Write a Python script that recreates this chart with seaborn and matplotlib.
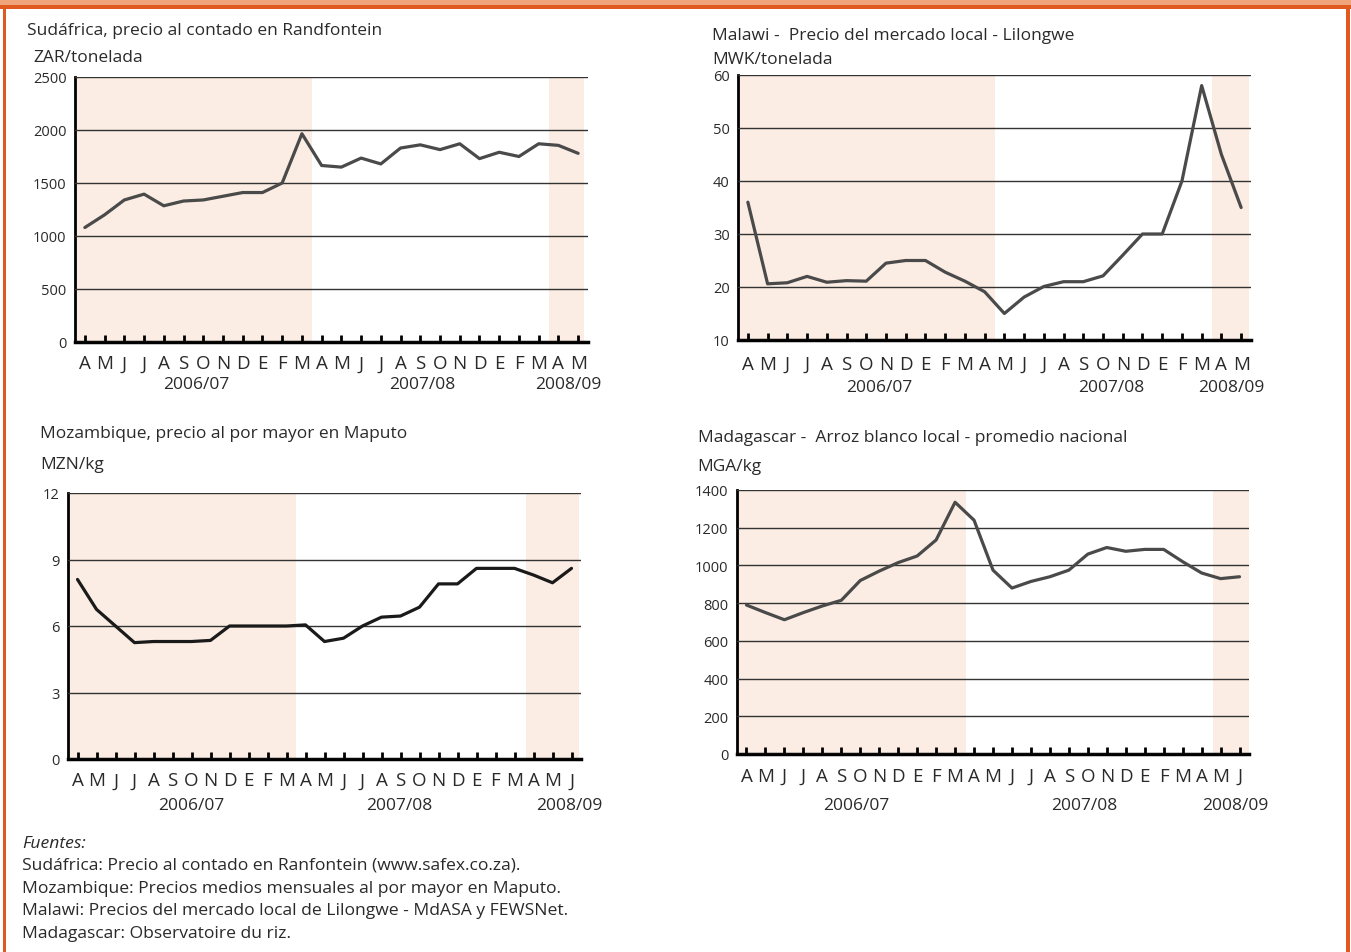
import matplotlib
matplotlib.use("Agg")
import matplotlib.pyplot as plt
import seaborn as sns

sns.set_theme(style="white")
plt.rcParams["font.family"] = ["Open Sans", "DejaVu Sans"]

# data
months26 = ["A", "M", "J", "J", "A", "S", "O", "N", "D", "E", "F", "M",
            "A", "M", "J", "J", "A", "S", "O", "N", "D", "E", "F", "M",
            "A", "M"]
months27 = months26 + ["J"]
seasons = ["2006/07", "2007/08", "2008/09"]

sudafrica = [1080, 1200, 1340, 1395, 1285, 1330, 1340, 1375, 1410, 1410, 1500, 1965,
             1665, 1650, 1735, 1680, 1830, 1860, 1815, 1870, 1730, 1790, 1750, 1870,
             1855, 1780]
malawi = [36, 20.6, 20.8, 22, 20.9, 21.2, 21.1, 24.5, 25, 25, 22.8, 21.1,
          19.1, 15, 18.1, 20.1, 21, 21, 22.1, 26, 30, 30, 40, 58,
          45, 35]
mozambique = [8.1, 6.75, 6.0, 5.25, 5.3, 5.3, 5.3, 5.35, 6.0, 6.0, 6.0, 6.0,
              6.05, 5.3, 5.45, 6.0, 6.4, 6.45, 6.85, 7.9, 7.9, 8.6, 8.6, 8.6,
              8.3, 7.95, 8.6]
madagascar = [790, 750, 712, 750, 785, 815, 920, 970, 1015, 1050, 1135, 1335,
              1240, 975, 880, 915, 940, 975, 1060, 1095, 1075, 1085, 1085, 1020,
              960, 930, 940]

W, H = 1351, 953
fig = plt.figure(figsize=(W / 100, H / 100), dpi=100)

SHADE = "#fbede3"
TXT = "#2a2a2a"


def px(x, y):
    return x / W, 1 - y / H


def panel(box, values, months, ylim, yticks, shades, season_x, line_color,
          title, title_xy, unit, unit_xy, month_dy, season_dy):
    x0, y0, x1, y1 = box
    ax = fig.add_axes([x0 / W, 1 - y1 / H, (x1 - x0) / W, (y1 - y0) / H])
    for a, b in shades:
        ax.axvspan(a, b, color=SHADE, lw=0, zorder=0)
    sns.lineplot(x=list(range(len(values))), y=values, ax=ax,
                 color=line_color, lw=2.3, zorder=3)
    ax.set_xlim(-0.5, len(months) - 0.5)
    ax.set_ylim(*ylim)
    ax.set_yticks(yticks)
    ax.set_yticklabels([str(t) for t in yticks], fontsize=10.5, color=TXT)
    ax.set_xticks(range(len(months)))
    ax.set_xticklabels(months, fontsize=13.5, color=TXT)
    ax.tick_params(axis="x", direction="in", length=5, width=2, color="black",
                   pad=month_dy, bottom=True)
    ax.tick_params(axis="y", length=0, pad=6)
    ax.grid(axis="y", color="#333333", lw=1)
    ax.grid(axis="x", visible=False)
    ax.set_axisbelow(False)
    for s in ["top", "right"]:
        ax.spines[s].set_visible(False)
    ax.spines["left"].set_color("black")
    ax.spines["left"].set_linewidth(2)
    ax.spines["bottom"].set_color("black")
    ax.spines["bottom"].set_linewidth(2.5)
    ax.set_xlabel("")
    ax.set_ylabel("")
    hpx = y1 - y0
    for sx, lab in zip(season_x, seasons):
        ax.text(sx, -season_dy / hpx, lab, transform=ax.get_xaxis_transform(),
                ha="center", va="center", fontsize=12.5, color=TXT)
    fig.text(*px(*title_xy), title, ha="left", va="center", fontsize=12.5, color=TXT)
    fig.text(*px(*unit_xy), unit, ha="left", va="center", fontsize=12.5, color=TXT)
    return ax


panel((75, 78, 588, 343), sudafrica, months26, (0, 2500), [0, 500, 1000, 1500, 2000, 2500],
      [(-0.5, 11.5), (23.5, 25.3)], [5.64, 17.1, 24.5], "#4a4a4a",
      "Sudáfrica, precio al contado en Randfontein", (27, 31),
      "ZAR/tonelada", (33, 58), 9, 42)

panel((738, 76, 1251, 341), malawi, months26, (10, 60), [10, 20, 30, 40, 50, 60],
      [(-0.5, 12.5), (23.5, 25.4)], [6.65, 18.4, 24.5], "#4a4a4a",
      "Malawi -  Precio del mercado local - Lilongwe", (712, 36),
      "MWK/tonelada", (712, 60), 10.5, 47)

panel((68, 494, 581, 760), mozambique, months27, (0, 12), [0, 3, 6, 9, 12],
      [(-0.5, 11.5), (23.6, 26.4)], [5.98, 16.96, 25.9], "#1a1a1a",
      "Mozambique, precio al por mayor en Maputo", (40, 434),
      "MZN/kg", (40, 465), 9, 46)

panel((737, 491, 1249, 755), madagascar, months27, (0, 1400),
      [0, 200, 400, 600, 800, 1000, 1200, 1400],
      [(-0.5, 11.55), (24.6, 26.5)], [5.8, 17.8, 25.8], "#4a4a4a",
      "Madagascar -  Arroz blanco local - promedio nacional", (698, 438),
      "MGA/kg", (697, 467), 9, 51)

# sources
fig.text(*px(22, 844), "Fuentes:", ha="left", va="center", fontsize=12.6, style="italic", color=TXT)
sources = ["Sudáfrica: Precio al contado en Ranfontein (www.safex.co.za).",
           "Mozambique: Precios medios mensuales al por mayor en Maputo.",
           "Malawi: Precios del mercado local de Lilongwe - MdASA y FEWSNet.",
           "Madagascar: Observatoire du riz."]
for i, s in enumerate(sources):
    fig.text(*px(22, 866 + i * 22.6), s, ha="left", va="center", fontsize=12.6, color=TXT)

# orange frame
frame = fig.add_axes([0, 0, 1, 1], zorder=-1)
frame.set_xlim(0, W)
frame.set_ylim(H, 0)
frame.axis("off")
frame.axhspan(0, 5.5, color="#f0a47a", lw=0)
frame.axhspan(5.5, 10, color="#e0591e", lw=0)
frame.axvspan(3, 6, ymin=0, ymax=1 - 5.5 / H, color="#e0591e", lw=0)
frame.axvspan(1346, 1350, ymin=0, ymax=1 - 5.5 / H, color="#e0591e", lw=0)

fig.savefig("out.png", dpi=100)
